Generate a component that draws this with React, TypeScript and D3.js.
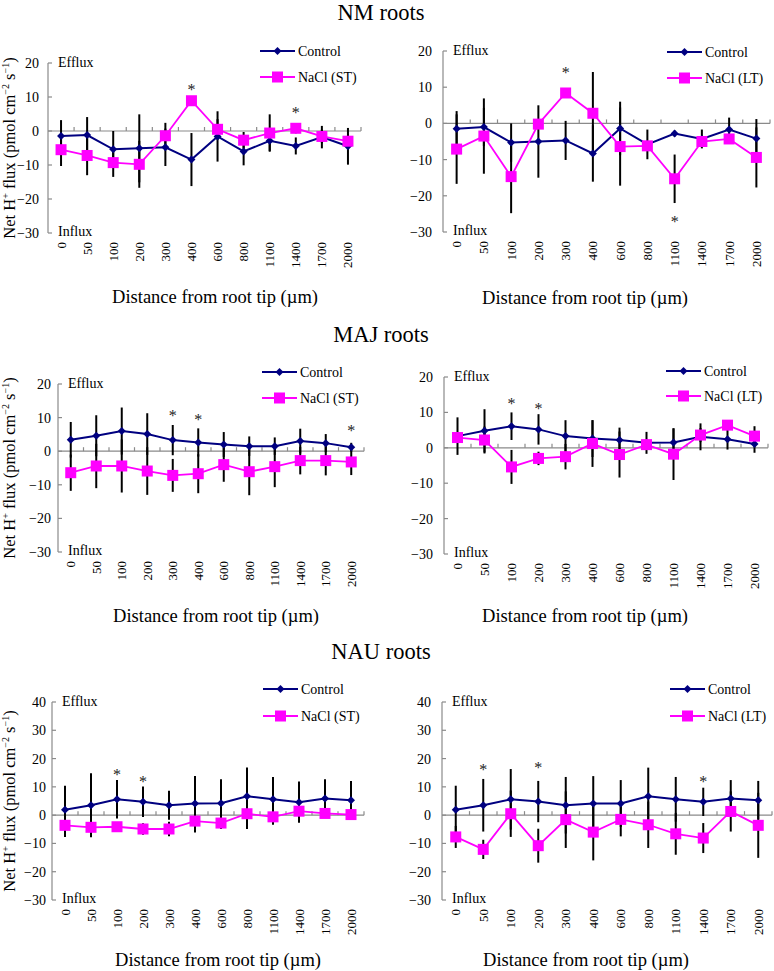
import React from 'react';
import * as d3 from 'd3';

// distance from root tip (µm), category axis
const distances = ['0', '50', '100', '200', '300', '400', '600', '800', '1100', '1400', '1700', '2000'];

// NM roots, short-term NaCl
const nmStControl = [-1.5, -1.2, -5.4, -5.1, -4.8, -8.4, -1.6, -6.0, -2.9, -4.4, -1.8, -4.5];
const nmStControlErr = [4.7, 5.3, 5.4, 10.0, 5.5, 7.8, 7.4, 4.1, 3.0, 2.5, 3.3, 5.4];
const nmStNacl = [-5.5, -7.2, -9.3, -9.8, -1.4, 8.9, 0.5, -2.7, -0.6, 0.8, -1.6, -3.0];
const nmStNaclErr = [4.8, 5.8, 4.2, 6.9, 3.8, 1.0, 3.0, 2.4, 5.5, 1.5, 2.0, 2.0];
const nmStStars = [{ i: 5, v: 12.9 }, { i: 9, v: 6.1 }];

// NM roots, long-term NaCl
const nmLtControl = [-1.5, -1.0, -5.3, -5.0, -4.7, -8.3, -1.4, -5.8, -2.8, -4.3, -1.7, -4.2];
const nmLtControlErr = [4.9, 5.3, 5.3, 10.0, 5.4, 7.8, 7.4, 4.1, 0.8, 2.6, 3.3, 5.4];
const nmLtNacl = [-7.1, -3.5, -14.7, -0.2, 8.4, 2.8, -6.4, -6.2, -15.3, -5.0, -4.3, -9.4];
const nmLtNaclErr = [9.6, 10.4, 10.1, 1.0, 1.0, 11.4, 10.8, 1.0, 6.7, 1.0, 1.0, 8.3];
const nmLtStars = [{ i: 4, v: 14.7 }, { i: 8, v: -26.4 }];

// MAJ roots
const majStControl = [3.4, 4.6, 6.0, 5.1, 3.3, 2.6, 2.0, 1.5, 1.5, 3.0, 2.4, 1.2];
const majStControlErr = [5.3, 6.1, 7.0, 6.2, 4.5, 4.2, 3.7, 2.9, 2.6, 3.7, 2.7, 1.3];
const majStNacl = [-6.4, -4.4, -4.4, -5.9, -7.2, -6.7, -4.0, -6.1, -4.6, -2.8, -2.8, -3.2];
const majStNaclErr = [5.4, 6.6, 7.9, 7.1, 4.9, 5.8, 5.1, 7.0, 6.1, 4.1, 4.4, 3.9];
const majStStars = [{ i: 4, v: 11.3 }, { i: 5, v: 10.1 }, { i: 11, v: 6.9 }];

const majLtControl = [3.3, 4.8, 6.1, 5.2, 3.3, 2.6, 2.2, 1.4, 1.5, 3.1, 2.4, 1.1];
const majLtControlErr = [5.3, 6.1, 3.9, 4.3, 4.5, 5.2, 3.5, 3.1, 4.0, 3.8, 2.9, 2.5];
const majLtNacl = [2.9, 2.2, -5.4, -3.0, -2.5, 1.2, -1.9, 0.9, -1.8, 3.6, 6.4, 3.3];
const majLtNaclErr = [1.0, 3.8, 4.8, 1.9, 3.6, 6.6, 6.5, 1.0, 7.3, 2.0, 1.0, 2.8];
const majLtStars = [{ i: 2, v: 13.1 }, { i: 3, v: 11.7 }];

// NAU roots
const nauStControl = [1.9, 3.5, 5.6, 4.7, 3.5, 4.1, 4.2, 6.7, 5.6, 4.6, 5.9, 5.3];
const nauStControlErr = [8.5, 11.3, 6.8, 5.4, 5.1, 9.7, 8.5, 10.1, 7.9, 7.3, 6.8, 6.8];
const nauStNacl = [-3.6, -4.3, -4.1, -4.9, -4.9, -2.1, -2.8, 0.5, -0.6, 1.4, 0.6, 0.2];
const nauStNaclErr = [4.1, 3.2, 1.0, 2.0, 2.6, 4.0, 2.1, 5.4, 2.8, 2.0, 1.0, 1.0];
const nauStStars = [{ i: 2, v: 15.4 }, { i: 3, v: 12.8 }];

const nauLtControl = [1.9, 3.5, 5.6, 4.8, 3.5, 4.1, 4.1, 6.7, 5.6, 4.7, 5.9, 5.3];
const nauLtControlErr = [8.5, 9.3, 10.7, 7.3, 10.0, 9.7, 8.3, 10.1, 7.9, 5.0, 6.5, 6.8];
const nauLtNacl = [-7.7, -12.1, 0.5, -10.8, -1.6, -6.0, -1.5, -3.4, -6.6, -8.1, 1.3, -3.6];
const nauLtNaclErr = [3.9, 3.4, 8.2, 6.0, 10.0, 10.0, 6.0, 8.2, 7.4, 5.3, 7.1, 11.5];
const nauLtStars = [{ i: 1, v: 16.9 }, { i: 3, v: 17.7 }, { i: 9, v: 12.8 }];

const ticksShort = [-30, -20, -10, 0, 10, 20];
const ticksTall = [-30, -20, -10, 0, 10, 20, 30, 40];
const rowTitles = ['NM roots', 'MAJ roots', 'NAU roots'];

const FONT = '"Liberation Serif", "Times New Roman", Times, serif';
const NAVY = '#000080';
const PINK = '#ff00ff';
const AXIS = '#8a8a8a';

type Star = { i: number; v: number };
type PanelDef = {
  x0: number; x1: number; yt: number; yb: number; ticks: number[]; gap: number;
  control: number[]; controlErr: number[]; nacl: number[]; naclErr: number[]; stars: Star[];
  naclLabel: string; legX: number; legY1: number; legY2: number;
  titleX: number; titleY: number; yTitle?: number;
};

const panels: PanelDef[] = [
  { x0: 48, x1: 361, yt: 63, yb: 233, ticks: ticksShort, gap: 9, control: nmStControl, controlErr: nmStControlErr, nacl: nmStNacl, naclErr: nmStNaclErr, stars: nmStStars, naclLabel: 'NaCl (ST)', legX: 260, legY1: 51, legY2: 77, titleX: 215, titleY: 303, yTitle: 148 },
  { x0: 443, x1: 770, yt: 51, yb: 232, ticks: ticksShort, gap: 11, control: nmLtControl, controlErr: nmLtControlErr, nacl: nmLtNacl, naclErr: nmLtNaclErr, stars: nmLtStars, naclLabel: 'NaCl (LT)', legX: 667, legY1: 52, legY2: 78, titleX: 585, titleY: 304 },
  { x0: 58, x1: 364, yt: 384, yb: 552, ticks: ticksShort, gap: 7, control: majStControl, controlErr: majStControlErr, nacl: majStNacl, naclErr: majStNaclErr, stars: majStStars, naclLabel: 'NaCl (ST)', legX: 262, legY1: 372, legY2: 398, titleX: 216, titleY: 622, yTitle: 468 },
  { x0: 444, x1: 768, yt: 377, yb: 554, ticks: ticksShort, gap: 11, control: majLtControl, controlErr: majLtControlErr, nacl: majLtNacl, naclErr: majLtNaclErr, stars: majLtStars, naclLabel: 'NaCl (LT)', legX: 666, legY1: 371, legY2: 396, titleX: 585, titleY: 622 },
  { x0: 52, x1: 364, yt: 702, yb: 900, ticks: ticksTall, gap: 6, control: nauStControl, controlErr: nauStControlErr, nacl: nauStNacl, naclErr: nauStNaclErr, stars: nauStStars, naclLabel: 'NaCl (ST)', legX: 263, legY1: 689, legY2: 716, titleX: 218, titleY: 966, yTitle: 801 },
  { x0: 442, x1: 772, yt: 702, yb: 900, ticks: ticksTall, gap: 11, control: nauLtControl, controlErr: nauLtControlErr, nacl: nauLtNacl, naclErr: nauLtNaclErr, stars: nauLtStars, naclLabel: 'NaCl (LT)', legX: 670, legY1: 689, legY2: 716, titleX: 586, titleY: 966 },
];

const diamond = (cx: number, cy: number, r = 4) => `M${cx},${cy - r}L${cx + r},${cy}L${cx},${cy + r}L${cx - r},${cy}Z`;
const SQ = 11;

const fmt = (v: number) => (v < 0 ? '\u2212' + Math.abs(v) : String(v));

const Panel = ({ p }: { p: PanelDef }) => {
  const x = d3.scaleBand<string>().domain(distances).range([p.x0, p.x1]).padding(0);
  const y = d3.scaleLinear().domain([p.ticks[0], p.ticks[p.ticks.length - 1]]).range([p.yb, p.yt]);
  const bw = x.bandwidth();
  const cx = (i: number) => (x(distances[i]) as number) + bw / 2;
  const line = d3.line<number>().x((_, i) => cx(i)).y((v) => y(v));
  const y0 = y(0);

  return (
    <g>
      {/* axes */}
      <line x1={p.x0} x2={p.x0} y1={y(p.ticks[p.ticks.length - 1])} y2={p.yb} stroke={AXIS} strokeWidth={1.2} />
      {p.ticks.map((t) => (
        <g key={t}>
          <line x1={p.x0} x2={p.x0 + 4} y1={y(t)} y2={y(t)} stroke={AXIS} strokeWidth={1.2} />
          <text x={p.x0 - p.gap} y={y(t) + 5} textAnchor="end" fontSize={14}>{fmt(t)}</text>
        </g>
      ))}
      <line x1={p.x0} x2={p.x1} y1={y0} y2={y0} stroke={AXIS} strokeWidth={1.2} />
      {distances.map((d, i) => (
        <line key={d} x1={p.x0 + (i + 1) * bw} x2={p.x0 + (i + 1) * bw} y1={y0} y2={y0 - 4} stroke={AXIS} strokeWidth={1.2} />
      ))}
      {distances.map((d, i) => (
        <text key={d} transform={`translate(${cx(i) + 4.5},${p.yb + 9}) rotate(-90)`} textAnchor="end" fontSize={13}>{d}</text>
      ))}
      <text x={p.x0 + 10} y={p.yt + 3.5} fontSize={14}>Efflux</text>
      <text x={p.x0 + 10} y={p.yb + 3} fontSize={14}>Influx</text>

      {/* error bars */}
      {p.control.map((v, i) => (
        <line key={'ce' + i} x1={cx(i)} x2={cx(i)} y1={y(v + p.controlErr[i])} y2={y(v - p.controlErr[i])} stroke="#000" strokeWidth={2} />
      ))}
      {p.nacl.map((v, i) => (
        <line key={'ne' + i} x1={cx(i)} x2={cx(i)} y1={y(v + p.naclErr[i])} y2={y(v - p.naclErr[i])} stroke="#000" strokeWidth={2} />
      ))}

      {/* control series */}
      <path d={line(p.control) || ''} fill="none" stroke={NAVY} strokeWidth={2} />
      {p.control.map((v, i) => (
        <path key={'cm' + i} d={diamond(cx(i), y(v))} fill={NAVY} />
      ))}

      {/* NaCl series */}
      <path d={line(p.nacl) || ''} fill="none" stroke={PINK} strokeWidth={1.8} />
      {p.nacl.map((v, i) => (
        <rect key={'nm' + i} x={cx(i) - SQ / 2} y={y(v) - SQ / 2} width={SQ} height={SQ} fill={PINK} />
      ))}

      {p.stars.map((s) => (
        <text key={'s' + s.i} x={cx(s.i)} y={y(s.v) + 8} textAnchor="middle" fontSize={16} fill="#222">*</text>
      ))}

      {/* legend */}
      <line x1={p.legX} x2={p.legX + 35} y1={p.legY1} y2={p.legY1} stroke={NAVY} strokeWidth={2} />
      <path d={diamond(p.legX + 17.5, p.legY1)} fill={NAVY} />
      <text x={p.legX + 38} y={p.legY1 + 4.5} fontSize={14}>Control</text>
      <line x1={p.legX} x2={p.legX + 35} y1={p.legY2} y2={p.legY2} stroke={PINK} strokeWidth={1.8} />
      <rect x={p.legX + 17.5 - SQ / 2} y={p.legY2 - SQ / 2} width={SQ} height={SQ} fill={PINK} />
      <text x={p.legX + 38} y={p.legY2 + 4.5} fontSize={14}>{p.naclLabel}</text>

      {/* axis titles */}
      <text x={p.titleX} y={p.titleY} textAnchor="middle" fontSize={18.5}>Distance from root tip (µm)</text>
      {p.yTitle !== undefined && (
        <text transform={`translate(15,${p.yTitle}) rotate(-90)`} textAnchor="middle" fontSize={16.5}>
          Net H<tspan dy={-6} fontSize={10}>+</tspan><tspan dy={6}> flux (pmol cm</tspan>
          <tspan dy={-6} fontSize={10}>{'\u2212'}2</tspan><tspan dy={6}> s</tspan>
          <tspan dy={-6} fontSize={10}>{'\u2212'}1</tspan><tspan dy={6}>)</tspan>
        </text>
      )}
    </g>
  );
};

export default function App() {
  const titleY = [19.5, 342, 659];
  return (
    <svg width={774} height={971} style={{ position: 'absolute', left: 0, top: 0, background: '#fff' }} fontFamily={FONT}>
      <rect width={774} height={971} fill="#fff" />
      {rowTitles.map((t, i) => (
        <text key={t} x={381} y={titleY[i]} textAnchor="middle" fontSize={22.5}>{t}</text>
      ))}
      {panels.map((p, i) => (
        <Panel key={i} p={p} />
      ))}
    </svg>
  );
}
